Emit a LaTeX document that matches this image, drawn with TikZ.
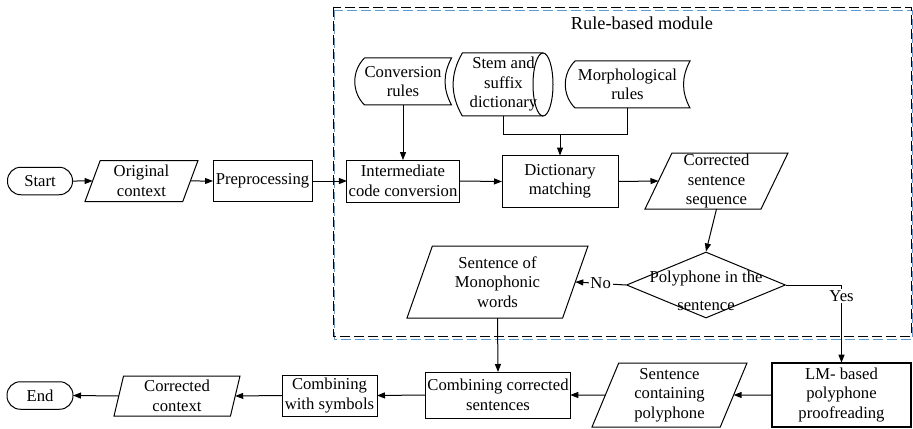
\documentclass[tikz,border=0pt]{standalone}
\usepackage{fontspec}
\setmainfont{Liberation Serif}
\usetikzlibrary{arrows.meta,shapes.geometric}
\definecolor{frameblue}{RGB}{91,155,213}

\begin{document}
\begin{tikzpicture}[x=0.6pt,y=-0.6pt,
  every node/.style={align=center,font=\fontsize{10}{11.7}\selectfont,inner sep=1pt},
  arr/.style={semithick,-{Triangle[length=4.8pt,width=3.6pt]}},
  box/.style={rectangle,draw,semithick,outer sep=0pt},
  term/.style={box,rounded corners=8pt,minimum width=39pt,minimum height=16.5pt},
  io/.style={trapezium,draw,semithick,trapezium left angle=63.5,trapezium right angle=116.5,
             trapezium stretches body,inner sep=0pt,outer sep=0pt},
  store/.style={rectangle,inner sep=0pt,outer sep=0pt},
  decision/.style={diamond,draw,semithick,minimum width=95.4pt,minimum height=39.6pt,inner sep=0pt}]
\useasboundingbox (0,0) rectangle (913,429);

% module frame
\draw[frameblue,line width=0.5pt,dash pattern=on 6pt off 2.4pt] (334,10) rectangle (912.5,339);
\draw[line width=0.5pt,dash pattern=on 6pt off 2.4pt] (333,7) rectangle (911,336);
\node[font=\fontsize{11}{13}\selectfont] (modtitle) at (642,23) {Rule-based module};

% top row
\node[term] (start) at (40,181) {Start};
\node[io,minimum width=67.8pt,minimum height=24.6pt,trapezium left angle=64,trapezium right angle=116] (orig) at (141.5,181) {Original\\context};
\node[box,minimum width=59.4pt,minimum height=24.6pt] (prep) at (262.5,181) {Preprocessing};
\node[box,minimum width=67.2pt,minimum height=25.2pt] (inter) at (403,181) {Intermediate\\code conversion};
\node[box,minimum width=69.6pt,minimum height=31.2pt] (dict) at (560,181.5) {Dictionary\\matching};
\node[io,minimum width=85.8pt,minimum height=33.6pt] (seq) at (716.5,181) {Corrected\\sentence\\sequence};

% rule sources
\node[store,minimum width=58.2pt,minimum height=28.2pt] (conv) at (403,81.5) {Conversion\\rules};
\node[store,minimum width=59.4pt,minimum height=37.8pt] (stem) at (503.5,84.5) {Stem and\\suffix\\dictionary};
\node[store,minimum width=75pt,minimum height=28.2pt] (morph) at (627.5,84.5) {Morphological\\rules};

\foreach \n in {conv,morph}
  \draw[semithick] ([xshift=6pt]\n.north west) -- (\n.north east) to[bend right=28] (\n.south east)
    -- ([xshift=6pt]\n.south west) to[bend left=45] ([xshift=6pt]\n.north west) -- cycle;
\draw[semithick] ([xshift=-6pt]stem.north east) -- ([xshift=5pt]stem.north west) to[bend right=30]
  ([xshift=5pt]stem.south west) -- ([xshift=-6pt]stem.south east);
\draw[semithick] ([xshift=-6pt]stem.east) ellipse [x radius=6pt, y radius=18.9pt];

% decision
\node[decision,label={[align=center,yshift=-3.6pt]center:Polyphone in the\\[5pt]sentence}] (poly) at (706,285) {};
\node[io,minimum width=108.6pt,minimum height=43.2pt] (mono) at (497.5,282) {Sentence of\\Monophonic\\words};

% bottom row
\node[term,minimum width=39.6pt] (end) at (40,395.5) {End};
\node[io,minimum width=75.6pt,minimum height=24pt,trapezium left angle=73,trapezium right angle=107] (ctx) at (177,396) {Corrected\\context};
\node[box,minimum width=57pt,minimum height=24.6pt] (sym) at (329.5,395.5) {Combining\\with symbols};
\node[box,minimum width=86.4pt,minimum height=27.6pt] (comb) at (498,395) {Combining corrected\\sentences};
\node[io,minimum width=93pt,minimum height=38.4pt] (cont) at (669.5,395) {Sentence\\containing\\polyphone};
\node[box,line width=1.2pt,minimum width=83pt,minimum height=38.8pt] (lm) at (841.5,395) {LM- based\\polyphone\\proofreading};

% connectors
\foreach \a/\b in {start/orig,orig/prep,prep/inter,inter/dict,dict/seq}
  \draw[arr] (\a.east) -- (\b.west);
\foreach \a/\b in {lm/cont,cont/comb,comb/sym,sym/ctx,ctx/end}
  \draw[arr] (\a.west) -- (\b.east);
\draw[arr] (conv.south) -- (inter.north);
\draw[semithick] (stem.south) -- ++(0,19) coordinate (merge) -| (morph.south);
\draw[arr] (dict.north |- merge) -- (dict.north);
\draw[arr] (seq.south) -- (poly.north);
\draw[arr] (poly.west) -- node[fill=white,inner sep=1pt] {No} (mono.east);
\draw[arr] (poly.east) -| node[pos=0.57,fill=white,inner sep=1pt] {Yes} (lm.north);
\draw[arr] (mono.south) -- (comb.north);
\end{tikzpicture}
\end{document}
